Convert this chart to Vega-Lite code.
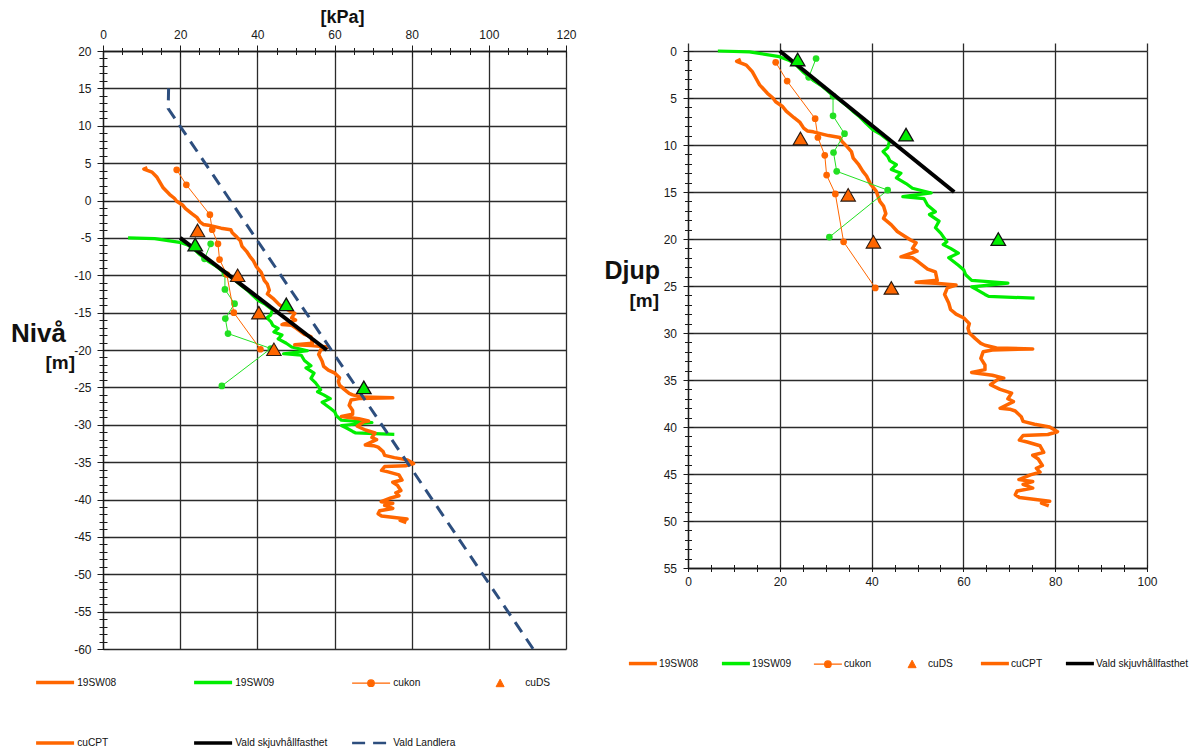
{
  "$schema": "https://vega.github.io/schema/vega-lite/v6.json",
  "background": "white",
  "autosize": {"type": "pad"},
  "padding": {"left": 10, "top": 8, "right": 2, "bottom": 0},
  "config": {
    "font": "Liberation Sans",
    "view": {"stroke": null},
    "axis": {
      "labelFont": "Liberation Sans",
      "labelFontSize": 12,
      "labelColor": "#1a1a1a",
      "labelFlush": false,
      "labelOverlap": false,
      "gridColor": "#2b2b2b",
      "gridWidth": 1.3,
      "gridOpacity": 1,
      "domainColor": "#1a1a1a",
      "domainWidth": 1.3,
      "tickColor": "#1a1a1a",
      "tickWidth": 1,
      "titleFont": "Liberation Sans",
      "titleFontWeight": "bold",
      "titleColor": "#111111"
    },
    "legend": {
      "labelFont": "Liberation Sans",
      "labelFontSize": 10.2,
      "labelColor": "#111111",
      "labelLimit": 400,
      "padding": 0
    }
  },
  "datasets": {
    "sw08": [
      {"kPa": 11.5, "djup": 0.9, "niva": 4.4, "serie": "19SW08"},
      {"kPa": 10.6, "djup": 1.1, "niva": 4.2, "serie": "19SW08"},
      {"kPa": 12.7, "djup": 1.5, "niva": 3.8, "serie": "19SW08"},
      {"kPa": 14.0, "djup": 2.2, "niva": 3.1, "serie": "19SW08"},
      {"kPa": 14.8, "djup": 2.9, "niva": 2.4, "serie": "19SW08"},
      {"kPa": 15.6, "djup": 3.6, "niva": 1.7, "serie": "19SW08"},
      {"kPa": 17.3, "djup": 4.5, "niva": 0.8, "serie": "19SW08"},
      {"kPa": 18.5, "djup": 5.0, "niva": 0.3, "serie": "19SW08"},
      {"kPa": 19.1, "djup": 5.4, "niva": -0.1, "serie": "19SW08"},
      {"kPa": 20.6, "djup": 5.9, "niva": -0.6, "serie": "19SW08"},
      {"kPa": 21.4, "djup": 6.4, "niva": -1.1, "serie": "19SW08"},
      {"kPa": 23.1, "djup": 7.1, "niva": -1.8, "serie": "19SW08"},
      {"kPa": 24.4, "djup": 7.6, "niva": -2.3, "serie": "19SW08"},
      {"kPa": 25.2, "djup": 8.2, "niva": -2.9, "serie": "19SW08"},
      {"kPa": 26.0, "djup": 8.5, "niva": -3.2, "serie": "19SW08"},
      {"kPa": 27.3, "djup": 8.6, "niva": -3.3, "serie": "19SW08"},
      {"kPa": 30.6, "djup": 9.0, "niva": -3.7, "serie": "19SW08"},
      {"kPa": 33.1, "djup": 9.2, "niva": -3.9, "serie": "19SW08"},
      {"kPa": 33.5, "djup": 9.6, "niva": -4.3, "serie": "19SW08"},
      {"kPa": 34.7, "djup": 10.2, "niva": -4.9, "serie": "19SW08"},
      {"kPa": 35.6, "djup": 10.7, "niva": -5.4, "serie": "19SW08"},
      {"kPa": 36.0, "djup": 11.4, "niva": -6.1, "serie": "19SW08"},
      {"kPa": 37.2, "djup": 12.1, "niva": -6.8, "serie": "19SW08"},
      {"kPa": 38.1, "djup": 12.8, "niva": -7.5, "serie": "19SW08"},
      {"kPa": 38.9, "djup": 13.3, "niva": -8.0, "serie": "19SW08"},
      {"kPa": 39.7, "djup": 14.1, "niva": -8.8, "serie": "19SW08"},
      {"kPa": 41.0, "djup": 14.9, "niva": -9.6, "serie": "19SW08"},
      {"kPa": 41.8, "djup": 16.0, "niva": -10.7, "serie": "19SW08"},
      {"kPa": 42.6, "djup": 16.5, "niva": -11.2, "serie": "19SW08"},
      {"kPa": 43.1, "djup": 17.3, "niva": -12.0, "serie": "19SW08"},
      {"kPa": 42.6, "djup": 17.8, "niva": -12.5, "serie": "19SW08"},
      {"kPa": 44.3, "djup": 18.5, "niva": -13.2, "serie": "19SW08"},
      {"kPa": 45.6, "djup": 19.2, "niva": -13.9, "serie": "19SW08"},
      {"kPa": 47.2, "djup": 19.7, "niva": -14.4, "serie": "19SW08"},
      {"kPa": 48.5, "djup": 20.1, "niva": -14.8, "serie": "19SW08"},
      {"kPa": 49.7, "djup": 20.4, "niva": -15.1, "serie": "19SW08"},
      {"kPa": 48.9, "djup": 21.0, "niva": -15.7, "serie": "19SW08"},
      {"kPa": 49.9, "djup": 21.3, "niva": -16.0, "serie": "19SW08"},
      {"kPa": 46.4, "djup": 21.9, "niva": -16.6, "serie": "19SW08"},
      {"kPa": 48.9, "djup": 22.0, "niva": -16.7, "serie": "19SW08"},
      {"kPa": 50.1, "djup": 22.4, "niva": -17.1, "serie": "19SW08"},
      {"kPa": 52.2, "djup": 23.2, "niva": -17.9, "serie": "19SW08"},
      {"kPa": 53.9, "djup": 23.5, "niva": -18.2, "serie": "19SW08"},
      {"kPa": 54.3, "djup": 24.4, "niva": -19.1, "serie": "19SW08"},
      {"kPa": 49.7, "djup": 24.6, "niva": -19.3, "serie": "19SW08"},
      {"kPa": 53.9, "djup": 24.7, "niva": -19.4, "serie": "19SW08"},
      {"kPa": 58.4, "djup": 24.9, "niva": -19.6, "serie": "19SW08"},
      {"kPa": 56.5, "djup": 25.2, "niva": -19.9, "serie": "19SW08"},
      {"kPa": 55.9, "djup": 25.9, "niva": -20.6, "serie": "19SW08"},
      {"kPa": 56.8, "djup": 26.8, "niva": -21.5, "serie": "19SW08"},
      {"kPa": 57.2, "djup": 27.5, "niva": -22.2, "serie": "19SW08"},
      {"kPa": 58.4, "djup": 28.0, "niva": -22.7, "serie": "19SW08"},
      {"kPa": 60.1, "djup": 28.4, "niva": -23.1, "serie": "19SW08"},
      {"kPa": 61.3, "djup": 29.0, "niva": -23.7, "serie": "19SW08"},
      {"kPa": 61.0, "djup": 29.5, "niva": -24.2, "serie": "19SW08"},
      {"kPa": 61.3, "djup": 30.0, "niva": -24.7, "serie": "19SW08"},
      {"kPa": 62.6, "djup": 30.6, "niva": -25.3, "serie": "19SW08"},
      {"kPa": 63.8, "djup": 31.1, "niva": -25.8, "serie": "19SW08"},
      {"kPa": 64.7, "djup": 31.3, "niva": -26.0, "serie": "19SW08"},
      {"kPa": 67.2, "djup": 31.6, "niva": -26.3, "serie": "19SW08"},
      {"kPa": 75.1, "djup": 31.7, "niva": -26.4, "serie": "19SW08"},
      {"kPa": 66.3, "djup": 31.8, "niva": -26.5, "serie": "19SW08"},
      {"kPa": 64.3, "djup": 32.0, "niva": -26.7, "serie": "19SW08"},
      {"kPa": 63.8, "djup": 32.7, "niva": -27.4, "serie": "19SW08"},
      {"kPa": 64.7, "djup": 33.4, "niva": -28.1, "serie": "19SW08"},
      {"kPa": 64.7, "djup": 33.9, "niva": -28.6, "serie": "19SW08"},
      {"kPa": 61.8, "djup": 34.2, "niva": -28.9, "serie": "19SW08"},
      {"kPa": 66.3, "djup": 34.5, "niva": -29.2, "serie": "19SW08"},
      {"kPa": 68.8, "djup": 34.8, "niva": -29.5, "serie": "19SW08"},
      {"kPa": 67.6, "djup": 34.9, "niva": -29.6, "serie": "19SW08"},
      {"kPa": 65.9, "djup": 35.5, "niva": -30.2, "serie": "19SW08"},
      {"kPa": 68.0, "djup": 36.0, "niva": -30.7, "serie": "19SW08"},
      {"kPa": 70.5, "djup": 36.4, "niva": -31.1, "serie": "19SW08"},
      {"kPa": 69.7, "djup": 37.0, "niva": -31.7, "serie": "19SW08"},
      {"kPa": 70.9, "djup": 37.3, "niva": -32.0, "serie": "19SW08"},
      {"kPa": 68.0, "djup": 38.0, "niva": -32.7, "serie": "19SW08"},
      {"kPa": 70.1, "djup": 38.1, "niva": -32.8, "serie": "19SW08"},
      {"kPa": 71.3, "djup": 38.3, "niva": -33.0, "serie": "19SW08"},
      {"kPa": 72.6, "djup": 38.9, "niva": -33.6, "serie": "19SW08"},
      {"kPa": 73.0, "djup": 39.4, "niva": -34.1, "serie": "19SW08"},
      {"kPa": 75.5, "djup": 39.7, "niva": -34.4, "serie": "19SW08"},
      {"kPa": 78.8, "djup": 40.0, "niva": -34.7, "serie": "19SW08"},
      {"kPa": 80.5, "djup": 40.5, "niva": -35.2, "serie": "19SW08"},
      {"kPa": 78.4, "djup": 40.8, "niva": -35.5, "serie": "19SW08"},
      {"kPa": 73.0, "djup": 40.9, "niva": -35.6, "serie": "19SW08"},
      {"kPa": 72.2, "djup": 41.4, "niva": -36.1, "serie": "19SW08"},
      {"kPa": 73.9, "djup": 41.6, "niva": -36.3, "serie": "19SW08"},
      {"kPa": 76.7, "djup": 42.0, "niva": -36.7, "serie": "19SW08"},
      {"kPa": 77.5, "djup": 42.7, "niva": -37.4, "serie": "19SW08"},
      {"kPa": 75.1, "djup": 43.0, "niva": -37.7, "serie": "19SW08"},
      {"kPa": 76.3, "djup": 43.4, "niva": -38.1, "serie": "19SW08"},
      {"kPa": 77.2, "djup": 44.1, "niva": -38.8, "serie": "19SW08"},
      {"kPa": 75.9, "djup": 44.4, "niva": -39.1, "serie": "19SW08"},
      {"kPa": 76.7, "djup": 44.8, "niva": -39.5, "serie": "19SW08"},
      {"kPa": 74.6, "djup": 45.1, "niva": -39.8, "serie": "19SW08"},
      {"kPa": 72.1, "djup": 45.6, "niva": -40.3, "serie": "19SW08"},
      {"kPa": 75.1, "djup": 45.8, "niva": -40.5, "serie": "19SW08"},
      {"kPa": 73.0, "djup": 46.1, "niva": -40.8, "serie": "19SW08"},
      {"kPa": 75.1, "djup": 46.5, "niva": -41.2, "serie": "19SW08"},
      {"kPa": 71.7, "djup": 46.8, "niva": -41.5, "serie": "19SW08"},
      {"kPa": 71.3, "djup": 47.2, "niva": -41.9, "serie": "19SW08"},
      {"kPa": 72.2, "djup": 47.5, "niva": -42.2, "serie": "19SW08"},
      {"kPa": 78.8, "djup": 47.9, "niva": -42.6, "serie": "19SW08"},
      {"kPa": 77.0, "djup": 48.1, "niva": -42.8, "serie": "19SW08"},
      {"kPa": 78.6, "djup": 48.4, "niva": -43.1, "serie": "19SW08"}
    ],
    "sw09": [
      {"kPa": 6.5, "djup": 0.0, "niva": -5.0, "serie": "19SW09"},
      {"kPa": 13.4, "djup": 0.1, "niva": -5.1, "serie": "19SW09"},
      {"kPa": 19.9, "djup": 0.6, "niva": -5.6, "serie": "19SW09"},
      {"kPa": 22.1, "djup": 1.0, "niva": -6.0, "serie": "19SW09"},
      {"kPa": 23.6, "djup": 1.5, "niva": -6.5, "serie": "19SW09"},
      {"kPa": 25.0, "djup": 2.2, "niva": -7.2, "serie": "19SW09"},
      {"kPa": 27.2, "djup": 3.1, "niva": -8.1, "serie": "19SW09"},
      {"kPa": 29.4, "djup": 3.8, "niva": -8.8, "serie": "19SW09"},
      {"kPa": 31.5, "djup": 4.7, "niva": -9.7, "serie": "19SW09"},
      {"kPa": 33.0, "djup": 5.2, "niva": -10.2, "serie": "19SW09"},
      {"kPa": 34.8, "djup": 5.9, "niva": -10.9, "serie": "19SW09"},
      {"kPa": 35.9, "djup": 6.4, "niva": -11.4, "serie": "19SW09"},
      {"kPa": 37.4, "djup": 7.0, "niva": -12.0, "serie": "19SW09"},
      {"kPa": 38.8, "djup": 7.7, "niva": -12.7, "serie": "19SW09"},
      {"kPa": 40.3, "djup": 8.4, "niva": -13.4, "serie": "19SW09"},
      {"kPa": 42.1, "djup": 8.9, "niva": -13.9, "serie": "19SW09"},
      {"kPa": 43.9, "djup": 9.6, "niva": -14.6, "serie": "19SW09"},
      {"kPa": 43.5, "djup": 10.3, "niva": -15.3, "serie": "19SW09"},
      {"kPa": 42.5, "djup": 10.7, "niva": -15.7, "serie": "19SW09"},
      {"kPa": 43.5, "djup": 11.2, "niva": -16.2, "serie": "19SW09"},
      {"kPa": 44.0, "djup": 11.7, "niva": -16.7, "serie": "19SW09"},
      {"kPa": 45.4, "djup": 12.1, "niva": -17.1, "serie": "19SW09"},
      {"kPa": 44.3, "djup": 12.6, "niva": -17.6, "serie": "19SW09"},
      {"kPa": 46.4, "djup": 13.0, "niva": -18.0, "serie": "19SW09"},
      {"kPa": 45.4, "djup": 13.5, "niva": -18.5, "serie": "19SW09"},
      {"kPa": 47.5, "djup": 14.1, "niva": -19.1, "serie": "19SW09"},
      {"kPa": 48.9, "djup": 14.6, "niva": -19.6, "serie": "19SW09"},
      {"kPa": 53.0, "djup": 15.1, "niva": -20.1, "serie": "19SW09"},
      {"kPa": 46.8, "djup": 15.5, "niva": -20.5, "serie": "19SW09"},
      {"kPa": 51.4, "djup": 15.7, "niva": -20.7, "serie": "19SW09"},
      {"kPa": 52.2, "djup": 16.4, "niva": -21.4, "serie": "19SW09"},
      {"kPa": 53.9, "djup": 17.1, "niva": -22.1, "serie": "19SW09"},
      {"kPa": 52.6, "djup": 17.4, "niva": -22.4, "serie": "19SW09"},
      {"kPa": 54.7, "djup": 18.1, "niva": -23.1, "serie": "19SW09"},
      {"kPa": 53.9, "djup": 18.8, "niva": -23.8, "serie": "19SW09"},
      {"kPa": 55.1, "djup": 19.4, "niva": -24.4, "serie": "19SW09"},
      {"kPa": 56.4, "djup": 20.3, "niva": -25.3, "serie": "19SW09"},
      {"kPa": 55.6, "djup": 20.6, "niva": -25.6, "serie": "19SW09"},
      {"kPa": 57.2, "djup": 21.0, "niva": -26.0, "serie": "19SW09"},
      {"kPa": 58.9, "djup": 21.5, "niva": -26.5, "serie": "19SW09"},
      {"kPa": 56.8, "djup": 22.0, "niva": -27.0, "serie": "19SW09"},
      {"kPa": 58.9, "djup": 22.8, "niva": -27.8, "serie": "19SW09"},
      {"kPa": 60.1, "djup": 23.3, "niva": -28.3, "serie": "19SW09"},
      {"kPa": 60.5, "djup": 23.8, "niva": -28.8, "serie": "19SW09"},
      {"kPa": 61.8, "djup": 24.4, "niva": -29.4, "serie": "19SW09"},
      {"kPa": 69.7, "djup": 24.7, "niva": -29.7, "serie": "19SW09"},
      {"kPa": 61.8, "djup": 25.1, "niva": -30.1, "serie": "19SW09"},
      {"kPa": 63.0, "djup": 25.4, "niva": -30.4, "serie": "19SW09"},
      {"kPa": 64.7, "djup": 25.9, "niva": -30.9, "serie": "19SW09"},
      {"kPa": 65.5, "djup": 26.1, "niva": -31.1, "serie": "19SW09"},
      {"kPa": 75.5, "djup": 26.3, "niva": -31.3, "serie": "19SW09"}
    ],
    "cukon08": [
      {"kPa": 19.1, "djup": 1.2, "niva": 4.1, "serie": "cukon"},
      {"kPa": 21.6, "djup": 3.2, "niva": 2.1, "serie": "cukon"},
      {"kPa": 27.7, "djup": 7.2, "niva": -1.9, "serie": "cukon"},
      {"kPa": 28.3, "djup": 9.2, "niva": -3.9, "serie": "cukon"},
      {"kPa": 29.8, "djup": 11.1, "niva": -5.8, "serie": "cukon"},
      {"kPa": 30.2, "djup": 13.2, "niva": -7.9, "serie": "cukon"},
      {"kPa": 32.1, "djup": 15.2, "niva": -9.9, "serie": "cukon"},
      {"kPa": 33.9, "djup": 20.3, "niva": -15.0, "serie": "cukon"},
      {"kPa": 40.8, "djup": 25.2, "niva": -19.9, "serie": "cukon"}
    ],
    "cukon09": [
      {"kPa": 27.9, "djup": 0.8, "niva": -5.8, "serie": "cukon 19SW09"},
      {"kPa": 26.3, "djup": 2.8, "niva": -7.8, "serie": "cukon 19SW09"},
      {"kPa": 31.6, "djup": 4.8, "niva": -9.8, "serie": "cukon 19SW09"},
      {"kPa": 31.6, "djup": 6.9, "niva": -11.9, "serie": "cukon 19SW09"},
      {"kPa": 34.1, "djup": 8.8, "niva": -13.8, "serie": "cukon 19SW09"},
      {"kPa": 31.7, "djup": 10.8, "niva": -15.8, "serie": "cukon 19SW09"},
      {"kPa": 32.4, "djup": 12.8, "niva": -17.8, "serie": "cukon 19SW09"},
      {"kPa": 43.5, "djup": 14.8, "niva": -19.8, "serie": "cukon 19SW09"},
      {"kPa": 30.8, "djup": 19.8, "niva": -24.8, "serie": "cukon 19SW09"}
    ],
    "cuds08": [
      {"kPa": 24.5, "djup": 9.3, "niva": -4.0, "serie": "cuDS"},
      {"kPa": 34.9, "djup": 15.3, "niva": -10.0, "serie": "cuDS"},
      {"kPa": 40.4, "djup": 20.3, "niva": -15.0, "serie": "cuDS"},
      {"kPa": 44.3, "djup": 25.2, "niva": -19.9, "serie": "cuDS"}
    ],
    "cuds09": [
      {"kPa": 23.9, "djup": 0.9, "niva": -5.9, "serie": "cuDS 19SW09"},
      {"kPa": 47.5, "djup": 8.9, "niva": -13.9, "serie": "cuDS 19SW09"},
      {"kPa": 67.6, "djup": 20.0, "niva": -25.0, "serie": "cuDS 19SW09"}
    ],
    "vald": [
      {"kPa": 20, "djup": 0, "niva": -5, "serie": "Vald skjuvhållfasthet"},
      {"kPa": 58, "djup": 15, "niva": -20, "serie": "Vald skjuvhållfasthet"}
    ],
    "landlera": [
      {"kPa": 17.0, "niva": 15.0, "serie": "Vald Landlera"},
      {"kPa": 16.9, "niva": 12.3, "serie": "Vald Landlera"},
      {"kPa": 111.5, "niva": -60.0, "serie": "Vald Landlera"}
    ]
  },
  "hconcat": [
    {
      "width": 463,
      "height": 598,
      "encoding": {
        "color": {
          "field": "serie",
          "type": "nominal",
          "scale": {
            "domain": ["19SW08", "19SW09", "cukon", "cuDS", "cuCPT", "Vald skjuvhållfasthet", "Vald Landlera", "cukon 19SW09", "cuDS 19SW09"],
            "range": ["#FF6600", "#00EE00", "#FF6600", "#FF6600", "#FF6600", "#000000", "#2D4E7E", "#22E022", "#00EE00"]
          },
          "legend": {
            "title": null,
            "values": ["19SW08", "19SW09", "cukon", "cuDS", "cuCPT", "Vald skjuvhållfasthet", "Vald Landlera"],
            "orient": "none",
            "legendX": -66,
            "legendY": 626,
            "direction": "horizontal",
            "columns": 4,
            "gridAlign": "each",
            "columnPadding": 0,
            "rowPadding": 46,
            "symbolSize": 144,
            "labelOffset": 30,
            "encode": {
              "symbols": {
                "update": {
                  "shape": {"signal": "datum.value === 'cukon' ? 'M-1,0L5.333,0M2.7,0A0.55,0.55,0,1,1,1.6,0A0.55,0.55,0,1,1,2.7,0ZM19.93,0' : datum.value === 'cuDS' ? 'M-1,0M1.667,-0.7L2.333,0.55L1,0.55Z' : datum.value === 'Vald Landlera' ? 'M-1,0L5.333,0M19.73,0' : (datum.value === '19SW08' || datum.value === 'cuCPT') ? 'M-1,0L5.333,0M22.92,0' : 'M-1,0L5.333,0M23.25,0'"},
                  "strokeWidth": {"signal": "datum.value === 'cukon' ? 1.2 : datum.value === 'cuDS' ? 1 : datum.value === 'Vald Landlera' ? 2.5 : 3.5"},
                  "strokeDash": {"signal": "datum.value === 'Vald Landlera' ? [13, 8] : []"},
                  "stroke": {"signal": "datum.value === '19SW09' ? '#00EE00' : datum.value === 'Vald skjuvhållfasthet' ? '#000000' : datum.value === 'Vald Landlera' ? '#2D4E7E' : datum.value === 'cuDS' ? '#2a1a10' : '#FF6600'"},
                  "fill": {"signal": "datum.value === 'cukon' ? '#FF9A00' : datum.value === 'cuDS' ? '#FF6600' : 'transparent'"},
                  "fillOpacity": {"value": 1},
                  "opacity": {"value": 1}
                }
              }
            }
          }
        }
      },
      "layer": [
        {
          "data": {"name": "sw09"},
          "mark": {"type": "line", "strokeWidth": 3.2, "strokeJoin": "round"},
          "encoding": {
            "x": {
              "field": "kPa", "type": "quantitative",
              "scale": {"domain": [0, 120], "nice": false, "zero": false},
              "axis": {
                "orient": "top", "values": [0, 20, 40, 60, 80, 100, 120],
                "grid": true, "ticks": false, "tickSize": 0, "domain": true,
                "labelPadding": 10,
                "labelExpr": "replace(datum.label, '−', '-')",
                "title": "[kPa]", "titleFontSize": 18, "titleAngle": 0,
                "titleX": 239, "titleY": -28.3, "titleAlign": "center", "titleBaseline": "alphabetic"
              }
            },
            "y": {
              "field": "niva", "type": "quantitative",
              "scale": {"domain": [-60, 20], "nice": false, "zero": false},
              "axis": {
                "orient": "left",
                "values": [-60, -55, -50, -45, -40, -35, -30, -25, -20, -15, -10, -5, 0, 5, 10, 15, 20],
                "grid": true, "ticks": false, "tickSize": 0, "domain": true,
                "labelPadding": 12,
                "labelExpr": "replace(datum.label, '−', '-')",
                "title": "Nivå", "titleFontSize": 26, "titleAngle": 0,
                "titleX": -92.5, "titleY": 290, "titleAlign": "left", "titleBaseline": "alphabetic"
              }
            },
            "order": {"value": null}
          }
        },
        {
          "data": {"name": "sw08"},
          "mark": {"type": "line", "strokeWidth": 3.5, "strokeJoin": "round"},
          "encoding": {
            "x": {
              "field": "kPa", "type": "quantitative",
              "scale": {"domain": [0, 120], "nice": false, "zero": false},
              "axis": {
                "orient": "top", "values": [0, 20, 40, 60, 80, 100, 120],
                "grid": false, "labels": false, "domain": false, "ticks": true,
                "tickSize": 12, "offset": -6, "title": null
              }
            },
            "y": {
              "field": "niva", "type": "quantitative",
              "scale": {"domain": [-60, 20], "nice": false, "zero": false},
              "axis": {
                "orient": "left",
                "values": [-60, -55, -50, -45, -40, -35, -30, -25, -20, -15, -10, -5, 0, 5, 10, 15, 20],
                "grid": false, "labels": false, "domain": false, "ticks": true,
                "tickSize": 12, "offset": -6, "title": null
              }
            },
            "order": {"value": null}
          }
        },
        {
          "data": {"name": "cukon09"},
          "mark": {"type": "line", "strokeWidth": 1, "point": {"filled": true, "size": 45}},
          "encoding": {
            "x": {"field": "kPa", "type": "quantitative", "scale": {"domain": [0, 120], "nice": false, "zero": false}, "axis": null},
            "y": {"field": "niva", "type": "quantitative", "scale": {"domain": [-60, 20], "nice": false, "zero": false}, "axis": null},
            "order": {"value": null}
          }
        },
        {
          "data": {"name": "cukon08"},
          "mark": {"type": "line", "strokeWidth": 1, "point": {"filled": true, "size": 45}},
          "encoding": {
            "x": {"field": "kPa", "type": "quantitative", "scale": {"domain": [0, 120], "nice": false, "zero": false}, "axis": null},
            "y": {"field": "niva", "type": "quantitative", "scale": {"domain": [-60, 20], "nice": false, "zero": false}, "axis": null},
            "order": {"value": null}
          }
        },
        {
          "data": {"name": "vald"},
          "mark": {"type": "line", "strokeWidth": 4},
          "encoding": {
            "x": {
              "field": "kPa", "type": "quantitative",
              "scale": {"domain": [0, 120], "nice": false, "zero": false},
              "axis": {
                "orient": "top",
                "values": [0, 5, 10, 15, 20, 25, 30, 35, 40, 45, 50, 55, 60, 65, 70, 75, 80, 85, 90, 95, 100, 105, 110, 115, 120],
                "grid": false, "labels": false, "domain": false, "ticks": true,
                "tickSize": 7, "offset": -3.5, "title": null
              }
            },
            "y": {
              "field": "niva", "type": "quantitative",
              "scale": {"domain": [-60, 20], "nice": false, "zero": false},
              "axis": {
                "orient": "left",
                "values": [-60, -59, -58, -57, -56, -55, -54, -53, -52, -51, -50, -49, -48, -47, -46, -45, -44, -43, -42, -41, -40, -39, -38, -37, -36, -35, -34, -33, -32, -31, -30, -29, -28, -27, -26, -25, -24, -23, -22, -21, -20, -19, -18, -17, -16, -15, -14, -13, -12, -11, -10, -9, -8, -7, -6, -5, -4, -3, -2, -1, 0, 1, 2, 3, 4, 5, 6, 7, 8, 9, 10, 11, 12, 13, 14, 15, 16, 17, 18, 19, 20],
                "grid": false, "labels": false, "domain": false, "ticks": true,
                "tickSize": 8, "offset": -4,
                "title": "[m]", "titleFontSize": 19, "titleAngle": 0,
                "titleX": -62, "titleY": 317, "titleAlign": "left", "titleBaseline": "alphabetic"
              }
            },
            "order": {"value": null}
          }
        },
        {
          "data": {"name": "landlera"},
          "mark": {"type": "line", "strokeWidth": 3, "strokeDash": [12, 8]},
          "encoding": {
            "x": {"field": "kPa", "type": "quantitative", "scale": {"domain": [0, 120], "nice": false, "zero": false}, "axis": null},
            "y": {"field": "niva", "type": "quantitative", "scale": {"domain": [-60, 20], "nice": false, "zero": false}, "axis": null},
            "order": {"value": null}
          }
        },
        {
          "data": {"name": "cuds09"},
          "mark": {"type": "point", "shape": "triangle-up", "filled": true, "size": 210, "stroke": "#111111", "strokeWidth": 1.3, "opacity": 1},
          "encoding": {
            "x": {"field": "kPa", "type": "quantitative", "scale": {"domain": [0, 120], "nice": false, "zero": false}, "axis": null},
            "y": {"field": "niva", "type": "quantitative", "scale": {"domain": [-60, 20], "nice": false, "zero": false}, "axis": null}
          }
        },
        {
          "data": {"name": "cuds08"},
          "mark": {"type": "point", "shape": "triangle-up", "filled": true, "size": 210, "stroke": "#2a1a10", "strokeWidth": 1.1, "opacity": 1},
          "encoding": {
            "x": {"field": "kPa", "type": "quantitative", "scale": {"domain": [0, 120], "nice": false, "zero": false}, "axis": null},
            "y": {"field": "niva", "type": "quantitative", "scale": {"domain": [-60, 20], "nice": false, "zero": false}, "axis": null}
          }
        }
      ],
      "resolve": {"axis": {"x": "independent", "y": "independent"}}
    },
    {
      "width": 459,
      "height": 517,
      "encoding": {
        "color": {
          "field": "serie",
          "type": "nominal",
          "scale": {
            "domain": ["19SW08", "19SW09", "cukon", "cuDS", "cuCPT", "Vald skjuvhållfasthet", "Vald Landlera", "cukon 19SW09", "cuDS 19SW09"],
            "range": ["#FF6600", "#00EE00", "#FF6600", "#FF6600", "#FF6600", "#000000", "#2D4E7E", "#22E022", "#00EE00"]
          },
          "legend": {
            "title": null,
            "values": ["19SW08", "19SW09", "cukon", "cuDS", "cuCPT", "Vald skjuvhållfasthet"],
            "orient": "none",
            "legendX": -58.2,
            "legendY": 607,
            "direction": "horizontal",
            "columns": 6,
            "gridAlign": "each",
            "columnPadding": 0,
            "symbolSize": 144,
            "labelOffset": 19,
            "encode": {
              "symbols": {
                "update": {
                  "shape": {"signal": "datum.value === '19SW08' ? 'M-1,0L3.667,0M12.11,0' : datum.value === '19SW09' ? 'M-1,0L3.667,0M12.58,0' : datum.value === 'cukon' ? 'M-1,0L3.667,0M1.883,0A0.55,0.55,0,1,1,0.783,0A0.55,0.55,0,1,1,1.883,0ZM12.13,0' : datum.value === 'cuDS' ? 'M-1,0M1.367,-0.7L2.033,0.55L0.7,0.55ZM11.17,0' : datum.value === 'cuCPT' ? 'M-1,0L3.667,0M10.71,0' : 'M-1,0L3.667,0'"},
                  "strokeWidth": {"signal": "datum.value === 'cukon' ? 1.2 : datum.value === 'cuDS' ? 1 : 3.5"},
                  "stroke": {"signal": "datum.value === '19SW09' ? '#00EE00' : datum.value === 'Vald skjuvhållfasthet' ? '#000000' : datum.value === 'cuDS' ? '#2a1a10' : '#FF6600'"},
                  "fill": {"signal": "datum.value === 'cukon' ? '#FF9A00' : datum.value === 'cuDS' ? '#FF6600' : 'transparent'"},
                  "fillOpacity": {"value": 1},
                  "opacity": {"value": 1}
                }
              }
            }
          }
        }
      },
      "layer": [
        {
          "data": {"name": "sw09"},
          "mark": {"type": "line", "strokeWidth": 3.2, "strokeJoin": "round"},
          "encoding": {
            "x": {
              "field": "kPa", "type": "quantitative",
              "scale": {"domain": [0, 100], "nice": false, "zero": false},
              "axis": {
                "orient": "bottom", "values": [0, 20, 40, 60, 80, 100],
                "grid": true, "ticks": false, "tickSize": 0, "domain": true,
                "labelPadding": 8, "title": null
              }
            },
            "y": {
              "field": "djup", "type": "quantitative",
              "scale": {"domain": [0, 55], "reverse": true, "nice": false, "zero": false},
              "axis": {
                "orient": "left",
                "values": [0, 5, 10, 15, 20, 25, 30, 35, 40, 45, 50, 55],
                "grid": true, "ticks": false, "tickSize": 0, "domain": true,
                "labelPadding": 11.5,
                "title": "Djup", "titleFontSize": 25, "titleAngle": 0,
                "titleX": -84, "titleY": 227, "titleAlign": "left", "titleBaseline": "alphabetic"
              }
            },
            "order": {"value": null}
          }
        },
        {
          "data": {"name": "sw08"},
          "mark": {"type": "line", "strokeWidth": 3.5, "strokeJoin": "round"},
          "encoding": {
            "x": {
              "field": "kPa", "type": "quantitative",
              "scale": {"domain": [0, 100], "nice": false, "zero": false},
              "axis": {
                "orient": "bottom",
                "values": [0, 5, 10, 15, 20, 25, 30, 35, 40, 45, 50, 55, 60, 65, 70, 75, 80, 85, 90, 95, 100],
                "grid": false, "labels": false, "domain": false, "ticks": true,
                "tickSize": 7, "offset": -3.5, "title": null
              }
            },
            "y": {
              "field": "djup", "type": "quantitative",
              "scale": {"domain": [0, 55], "reverse": true, "nice": false, "zero": false},
              "axis": {
                "orient": "left",
                "values": [0, 5, 10, 15, 20, 25, 30, 35, 40, 45, 50, 55],
                "grid": false, "labels": false, "domain": false, "ticks": true,
                "tickSize": 10, "offset": -5, "title": null
              }
            },
            "order": {"value": null}
          }
        },
        {
          "data": {"name": "cukon09"},
          "mark": {"type": "line", "strokeWidth": 1, "point": {"filled": true, "size": 45}},
          "encoding": {
            "x": {"field": "kPa", "type": "quantitative", "scale": {"domain": [0, 100], "nice": false, "zero": false}, "axis": null},
            "y": {"field": "djup", "type": "quantitative", "scale": {"domain": [0, 55], "reverse": true, "nice": false, "zero": false}, "axis": null},
            "order": {"value": null}
          }
        },
        {
          "data": {"name": "cukon08"},
          "mark": {"type": "line", "strokeWidth": 1, "point": {"filled": true, "size": 45}},
          "encoding": {
            "x": {"field": "kPa", "type": "quantitative", "scale": {"domain": [0, 100], "nice": false, "zero": false}, "axis": null},
            "y": {"field": "djup", "type": "quantitative", "scale": {"domain": [0, 55], "reverse": true, "nice": false, "zero": false}, "axis": null},
            "order": {"value": null}
          }
        },
        {
          "data": {"name": "vald"},
          "mark": {"type": "line", "strokeWidth": 4},
          "encoding": {
            "x": {
              "field": "kPa", "type": "quantitative",
              "scale": {"domain": [0, 100], "nice": false, "zero": false},
              "axis": {
                "orient": "top", "values": [0, 20, 40, 60, 80, 100],
                "grid": false, "labels": false, "domain": false, "ticks": true,
                "tickSize": 8, "tickWidth": 1.3, "tickColor": "#2b2b2b", "title": null
              }
            },
            "y": {
              "field": "djup", "type": "quantitative",
              "scale": {"domain": [0, 55], "reverse": true, "nice": false, "zero": false},
              "axis": {
                "orient": "left",
                "values": [0, 1, 2, 3, 4, 5, 6, 7, 8, 9, 10, 11, 12, 13, 14, 15, 16, 17, 18, 19, 20, 21, 22, 23, 24, 25, 26, 27, 28, 29, 30, 31, 32, 33, 34, 35, 36, 37, 38, 39, 40, 41, 42, 43, 44, 45, 46, 47, 48, 49, 50, 51, 52, 53, 54, 55],
                "grid": false, "labels": false, "domain": false, "ticks": true,
                "tickSize": 7, "offset": -3.5,
                "title": "[m]", "titleFontSize": 19, "titleAngle": 0,
                "titleX": -62.5, "titleY": 255, "titleAlign": "left", "titleBaseline": "alphabetic"
              }
            },
            "order": {"value": null}
          }
        },
        {
          "data": {"name": "cuds09"},
          "mark": {"type": "point", "shape": "triangle-up", "filled": true, "size": 210, "stroke": "#111111", "strokeWidth": 1.3, "opacity": 1},
          "encoding": {
            "x": {"field": "kPa", "type": "quantitative", "scale": {"domain": [0, 100], "nice": false, "zero": false}, "axis": null},
            "y": {"field": "djup", "type": "quantitative", "scale": {"domain": [0, 55], "reverse": true, "nice": false, "zero": false}, "axis": null}
          }
        },
        {
          "data": {"name": "cuds08"},
          "mark": {"type": "point", "shape": "triangle-up", "filled": true, "size": 210, "stroke": "#2a1a10", "strokeWidth": 1.1, "opacity": 1},
          "encoding": {
            "x": {"field": "kPa", "type": "quantitative", "scale": {"domain": [0, 100], "nice": false, "zero": false}, "axis": null},
            "y": {"field": "djup", "type": "quantitative", "scale": {"domain": [0, 55], "reverse": true, "nice": false, "zero": false}, "axis": null}
          }
        }
      ],
      "resolve": {"axis": {"x": "independent", "y": "independent"}}
    }
  ],
  "spacing": 122,
  "bounds": "flush",
  "resolve": {
    "scale": {"x": "independent", "y": "independent", "color": "independent"},
    "legend": {"color": "independent"}
  }
}
